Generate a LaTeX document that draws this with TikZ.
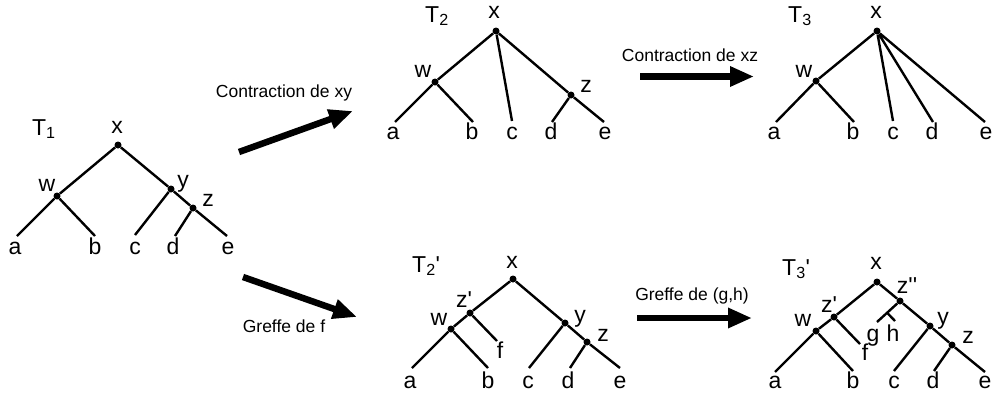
\documentclass[tikz,border=0pt]{standalone}
\usepackage{fontspec}
\setmainfont{Liberation Sans}
\usetikzlibrary{arrows.meta,calc}
\newcommand{\tq}{\textquotesingle}
\begin{document}
\begin{tikzpicture}[x=1pt,y=-1pt,
  vtx/.style={circle,fill,inner sep=0pt,minimum size=7pt},
  branch/.style={line width=2.4pt},
  lbl/.style={anchor=base,inner sep=0pt,font=\fontsize{23}{27}\selectfont},
  tname/.style={anchor=base west,inner sep=0pt,font=\fontsize{23}{27}\selectfont},
  opname/.style={anchor=base,inner sep=0pt,font=\fontsize{17.5}{21}\selectfont},
  bigarrow/.style={line width=6.5pt,-{Triangle[length=24pt,width=19pt]}}]
\useasboundingbox (0,0) rectangle (994,399);
% T1
\node[vtx] (x1) at (118,145) {};
\node[vtx] (w1) at (57,196) {};
\node[vtx] (y1) at (171,189) {};
\node[vtx] (z1) at (193,208) {};
\coordinate (a1) at (17,236);
\coordinate (b1) at (95,236);
\coordinate (c1) at (135,235);
\coordinate (d1) at (175,236);
\coordinate (e1) at (227,236);
\draw[branch] (x1) -- (w1) (x1) -- (y1) (y1) -- (z1)
  (w1) -- (a1) (w1) -- (b1) (y1) -- (c1) (z1) -- (d1) (z1) -- (e1);
\node[tname] (t1) at (32,135) {T\textsubscript{1}};
\node[lbl] (lx1) at (117,133) {x};
\node[lbl] (lw1) at (47,191) {w};
\node[lbl] (ly1) at (183,187) {y};
\node[lbl] (lz1) at (208,206) {z};
\node[lbl] (la1) at (15,254) {a};
\node[lbl] (lb1) at (95,254) {b};
\node[lbl] (lc1) at (135,254) {c};
\node[lbl] (ld1) at (173,254) {d};
\node[lbl] (le1) at (228,254) {e};
% T2
\node[vtx] (x2) at (496,31) {};
\node[vtx] (w2) at (435,82) {};
\node[vtx] (z2) at (571,95) {};
\coordinate (a2) at (395,122);
\coordinate (b2) at (473,122);
\coordinate (c2) at (512,121);
\coordinate (d2) at (552,122);
\coordinate (e2) at (604,122);
\draw[branch] (x2) -- (w2) (x2) -- (c2) (x2) -- (z2)
  (w2) -- (a2) (w2) -- (b2) (z2) -- (d2) (z2) -- (e2);
\node[tname] (t2) at (425,22) {T\textsubscript{2}};
\node[lbl] (lx2) at (494,18) {x};
\node[lbl] (lw2) at (423,77) {w};
\node[lbl] (lz2) at (586,92) {z};
\node[lbl] (la2) at (393,139) {a};
\node[lbl] (lb2) at (472,139) {b};
\node[lbl] (lc2) at (512,139) {c};
\node[lbl] (ld2) at (551,139) {d};
\node[lbl] (le2) at (605,139) {e};
% T3
\node[vtx] (x3) at (877,31) {};
\node[vtx] (w3) at (816,81) {};
\coordinate (a3) at (776,122);
\coordinate (b3) at (854,122);
\coordinate (c3) at (893,121);
\coordinate (d3) at (933,122);
\coordinate (e3) at (985,122);
\draw[branch] (x3) -- (w3) (x3) -- (c3) (x3) -- (d3) (x3) -- (e3)
  (w3) -- (a3) (w3) -- (b3);
\node[tname] (t3) at (788,22) {T\textsubscript{3}};
\node[lbl] (lx3) at (876,18) {x};
\node[lbl] (lw3) at (804,77) {w};
\node[lbl] (la3) at (774,139) {a};
\node[lbl] (lb3) at (853,139) {b};
\node[lbl] (lc3) at (893,139) {c};
\node[lbl] (ld3) at (932,139) {d};
\node[lbl] (le3) at (986,139) {e};
% T2'
\node[vtx] (xp2) at (513,279) {};
\node[vtx] (zq2) at (470,313) {};
\node[vtx] (wp2) at (451,329) {};
\node[vtx] (yp2) at (565,323) {};
\node[vtx] (zp2) at (587,342) {};
\coordinate (ap2) at (412,368);
\coordinate (bp2) at (488,368);
\coordinate (cp2) at (529,368);
\coordinate (dp2) at (570,368);
\coordinate (ep2) at (620,368);
\coordinate (fp2) at (497,341);
\draw[branch] (xp2) -- (zq2) (zq2) -- (wp2) (zq2) -- (fp2)
  (wp2) -- (ap2) (wp2) -- (bp2) (xp2) -- (yp2) (yp2) -- (cp2)
  (yp2) -- (zp2) (zp2) -- (dp2) (zp2) -- (ep2);
\node[tname] (tp2) at (412,272) {T\textsubscript{2}\tq};
\node[lbl] (lxp2) at (512,268) {x};
\node[lbl] (lzq2) at (464,307) {z\tq};
\node[lbl] (lwp2) at (439,325) {w};
\node[lbl] (lfp2) at (500,358) {f};
\node[lbl] (lyp2) at (580,322) {y};
\node[lbl] (lzp2) at (603,341) {z};
\node[lbl] (lap2) at (410,388) {a};
\node[lbl] (lbp2) at (488,388) {b};
\node[lbl] (lcp2) at (528,388) {c};
\node[lbl] (ldp2) at (568,388) {d};
\node[lbl] (lep2) at (620,388) {e};
% T3'
\node[vtx] (xp3) at (877,282) {};
\node[vtx] (zz3) at (900,301) {};
\node[vtx] (zq3) at (834,317) {};
\node[vtx] (wp3) at (816,331) {};
\node[vtx] (yp3) at (930,326) {};
\node[vtx] (zp3) at (952,345) {};
\coordinate (ap3) at (775,372);
\coordinate (bp3) at (853,371);
\coordinate (cp3) at (894,371);
\coordinate (dp3) at (934,371);
\coordinate (ep3) at (985,372);
\coordinate (fp3) at (860,344);
\coordinate (gp3) at (877,322);
\coordinate (hp3) at (895,321);
\coordinate (hb3) at ($(zz3)!0.56!(gp3)$);
\draw[branch] (xp3) -- (zq3) (zq3) -- (wp3) (zq3) -- (fp3)
  (wp3) -- (ap3) (wp3) -- (bp3) (xp3) -- (zz3) (zz3) -- (gp3)
  (hb3) -- (hp3) (zz3) -- (yp3) (yp3) -- (cp3)
  (yp3) -- (zp3) (zp3) -- (dp3) (zp3) -- (ep3);
\node[tname] (tp3) at (782,275) {T\textsubscript{3}\tq};
\node[lbl] (lxp3) at (876,269) {x};
\node[lbl] (lzz3) at (907,293) {z\tq\tq};
\node[lbl] (lzq3) at (829,312) {z\tq};
\node[lbl] (lwp3) at (803,326) {w};
\node[lbl] (lfp3) at (865,360) {f};
\node[lbl] (lgp3) at (873,341) {g};
\node[lbl] (lhp3) at (893,341) {h};
\node[lbl] (lyp3) at (943,324) {y};
\node[lbl] (lzp3) at (968,343) {z};
\node[lbl] (lap3) at (775,388) {a};
\node[lbl] (lbp3) at (853,388) {b};
\node[lbl] (lcp3) at (894,388) {c};
\node[lbl] (ldp3) at (933,388) {d};
\node[lbl] (lep3) at (985,388) {e};
% operations
\coordinate (cxy0) at (239,152);
\coordinate (cxy1) at (353,111);
\draw[bigarrow] (cxy0) -- (cxy1);
\node[opname] (opcxy) at (284,97) {Contraction de xy};
\coordinate (gf0) at (243,277);
\coordinate (gf1) at (357,317);
\draw[bigarrow] (gf0) -- (gf1);
\node[opname] (opgf) at (284,332) {Greffe de f};
\coordinate (cxz0) at (640,76.5);
\coordinate (cxz1) at (754,76.5);
\draw[bigarrow] (cxz0) -- (cxz1);
\node[opname] (opcxz) at (690,61) {Contraction de xz};
\coordinate (ggh0) at (637,318);
\coordinate (ggh1) at (752,318);
\draw[bigarrow] (ggh0) -- (ggh1);
\node[opname] (opggh) at (692,300) {Greffe de (g,h)};
\end{tikzpicture}
\end{document}
